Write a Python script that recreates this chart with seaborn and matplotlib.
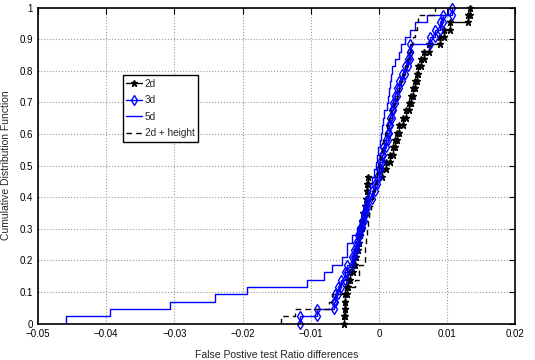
import numpy as np
import matplotlib
matplotlib.use("Agg")
import matplotlib.pyplot as plt
import seaborn as sns
from matplotlib.lines import Line2D

# sorted sample values (43 samples each)
vals_2d = [-0.0051, -0.0050, -0.0050, -0.0049, -0.0047, -0.0045, -0.0042, -0.0038,
           -0.0035, -0.0033, -0.0031, -0.0029, -0.0027, -0.0025, -0.0023, -0.0021,
           -0.0019, -0.0018, -0.0017, -0.0016, 0.0005, 0.0010, 0.0016, 0.0021,
           0.0024, 0.0027, 0.0030, 0.0035, 0.0040, 0.0044, 0.0047, 0.0050,
           0.0053, 0.0056, 0.0058, 0.0062, 0.0066, 0.0074, 0.0090, 0.0096,
           0.0104, 0.0131, 0.0134]
vals_3d = [-0.0116, -0.0091, -0.0066, -0.0065, -0.0060, -0.0055, -0.0050, -0.0046,
           -0.0040, -0.0036, -0.0033, -0.0031, -0.0028, -0.0025, -0.0022, -0.0019,
           -0.0016, -0.0010, -0.0006, -0.0003, 0.0000, 0.0002, 0.0004, 0.0006,
           0.0010, 0.0013, 0.0015, 0.0017, 0.0019, 0.0021, 0.0024, 0.0027,
           0.0030, 0.0034, 0.0038, 0.0043, 0.0045, 0.0046, 0.0075, 0.0082,
           0.0090, 0.0094, 0.0107]
vals_5d = [-0.0459, -0.0394, -0.0306, -0.0241, -0.0194, -0.0106, -0.0081, -0.0068,
           -0.0054, -0.0047, -0.0046, -0.0040, -0.0032, -0.0028, -0.0025, -0.0022,
           -0.0019, -0.0016, -0.0013, -0.0010, -0.0007, -0.0004, -0.0002, -0.0001,
           0.0001, 0.0003, 0.0004, 0.0006, 0.0008, 0.0012, 0.0013, 0.0015,
           0.0016, 0.0018, 0.0020, 0.0023, 0.0030, 0.0033, 0.0038, 0.0046,
           0.0053, 0.0070, 0.0101]
vals_2dh = [-0.0143, -0.0123, -0.0073, -0.0068, -0.0050, -0.0035, -0.0029, -0.0029,
            -0.0021, -0.0021, -0.0020, -0.0019, -0.0018, -0.0016, -0.0014, -0.0012,
            -0.0010, -0.0008, -0.0006, -0.0004, -0.0002, 0.0000, 0.0002, 0.0004,
            0.0006, 0.0009, 0.0012, 0.0015, 0.0018, 0.0022, 0.0026, 0.0029,
            0.0032, 0.0035, 0.0038, 0.0041, 0.0044, 0.0047, 0.0050, 0.0053,
            0.0056, 0.0058, 0.0083]

labels = ["2d", "3d", "5d", "2d + height"]
x_ticks = [-0.05, -0.04, -0.03, -0.02, -0.01, 0, 0.01, 0.02]
x_ticklabels = ["\u22120.05", "\u22120.04", "\u22120.03", "\u22120.02", "\u22120.01", "0", "0.01", "0.02"]
y_ticks = [0, 0.1, 0.2, 0.3, 0.4, 0.5, 0.6, 0.7, 0.8, 0.9, 1]
y_ticklabels = ["0", "0.1", "0.2", "0.3", "0.4", "0.5", "0.6", "0.7", "0.8", "0.9", "1"]

sns.set_theme(style="white")
plt.rcParams["font.family"] = ["Liberation Sans", "DejaVu Sans"]

fig, ax = plt.subplots(figsize=(5.35, 3.6), dpi=100)
fig.subplots_adjust(left=0.071, right=0.963, bottom=0.101, top=0.979)

styles = [
    (vals_2d, "black", "-", "*", "black", 4.5),
    (vals_3d, "blue", "-", "d", "none", 5.0),
    (vals_5d, "blue", "-", None, None, 0),
    (vals_2dh, "black", (0, (4, 3)), None, None, 0),
]

handles = []
for (vals, color, ls, marker, mfc, ms), label in zip(styles, labels):
    sns.ecdfplot(x=vals, ax=ax, color=color, linestyle=ls, linewidth=1.0)
    if marker:
        # markers on both corners of every step, like a stairs plot
        xs = np.sort(vals)
        n = len(xs)
        mx = np.repeat(xs, 2)
        my = np.column_stack([np.arange(n), np.arange(1, n + 1)]).ravel() / n
        ax.plot(mx, my, linestyle="none", marker=marker, ms=ms,
                mec=color, mfc=mfc, mew=1.0, clip_on=False)
    handles.append(Line2D([], [], color=color, linestyle=ls, linewidth=1.0,
                          marker=marker if marker else "None", ms=ms,
                          mec=color, mfc=mfc if mfc else color))

ax.set_xlim(-0.05, 0.02)
ax.set_ylim(0, 1)
ax.set_xticks(x_ticks)
ax.set_xticklabels(x_ticklabels)
ax.set_yticks(y_ticks)
ax.set_yticklabels(y_ticklabels)
ax.grid(True, linestyle=":", color="#9a9a9a", linewidth=0.8)
ax.tick_params(direction="in", length=4, width=0.8, top=True, right=True,
               labelsize=7, colors="black")
ax.tick_params(axis="x", pad=4)
for sp in ax.spines.values():
    sp.set_color("black")
    sp.set_linewidth(1.2)

ax.set_xlabel("False Postive test Ratio differences", fontsize=7.5, labelpad=8)
ax.set_ylabel("Cumulative Distribution Function", fontsize=7.5, labelpad=6)

leg = ax.legend(handles, labels, loc="upper left", bbox_to_anchor=(0.178, 0.786),
                borderaxespad=0, fontsize=7.2, handlelength=1.6, handletextpad=0.25,
                borderpad=0.35, labelspacing=0.65, fancybox=False, framealpha=1)
leg.get_frame().set_edgecolor("black")
leg.get_frame().set_linewidth(1.0)

fig.savefig("out.png", dpi=100)
plt.close(fig)
